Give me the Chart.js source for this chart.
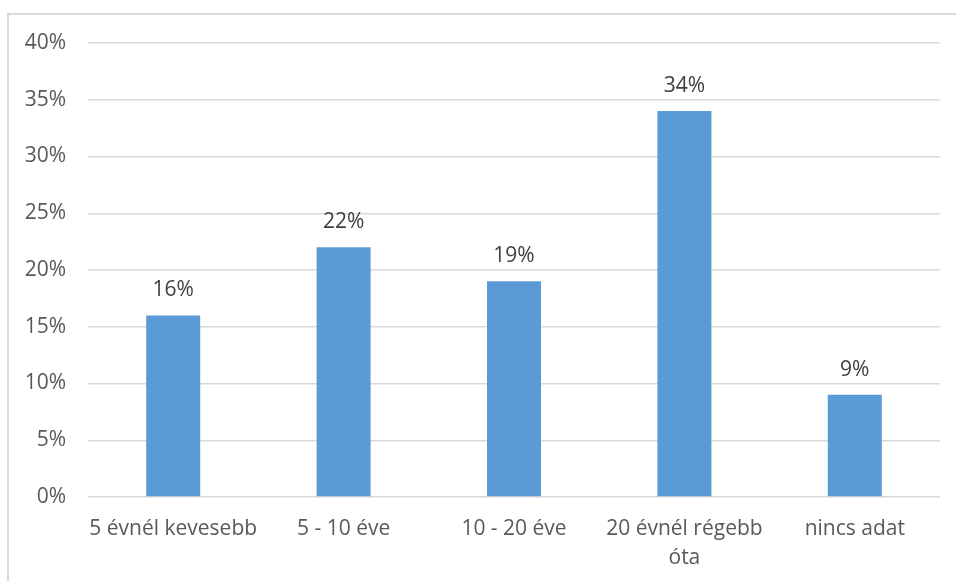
<!DOCTYPE html>
<html>
<head>
<meta charset="utf-8">
<script src="https://cdn.jsdelivr.net/npm/chart.js@4"></script>
<style>
  html, body { margin: 0; padding: 0; background: #fff; }
  #frame {
    position: absolute; left: 7px; top: 13px; right: -2px; bottom: -2px;
    border-top: 2px solid #d9d9d9; border-left: 2px solid #d9d9d9;
  }
  #wrap { position: absolute; left: 0; top: 0; width: 956px; height: 581px; }
</style>
</head>
<body>
<div id="frame"></div>
<div id="wrap"><canvas id="evekChart"></canvas></div>
<script>
const categories = ['5 évnél kevesebb', '5 - 10 éve', '10 - 20 éve', ['20 évnél régebb', 'óta'], 'nincs adat'];
const shares = [16, 22, 19, 34, 9];
const yTicks = [0, 5, 10, 15, 20, 25, 30, 35, 40];

const fontFamily = '"Open Sans", "Liberation Sans", sans-serif';

// value labels above the bars
const barLabels = {
    id: 'barLabels',
    afterDatasetsDraw(chart) {
        const ctx = chart.ctx;
        ctx.save();
        ctx.font = '21px ' + fontFamily;
        ctx.fillStyle = '#404040';
        ctx.textAlign = 'center';
        ctx.textBaseline = 'alphabetic';
        chart.getDatasetMeta(0).data.forEach((bar, i) => {
            ctx.fillText(shares[i] + '%', bar.x, bar.y - 19);
        });
        ctx.restore();
    }
};

new Chart(document.getElementById('evekChart'), {
    type: 'bar',
    data: {
        labels: categories,
        datasets: [{
            data: shares,
            backgroundColor: '#5b9bd5',
            barPercentage: 0.317,
            categoryPercentage: 1
        }]
    },
    options: {
        responsive: true,
        maintainAspectRatio: false,
        animation: false,
        layout: { padding: { top: 43, right: 16, left: 0, bottom: 0 } },
        plugins: {
            legend: { display: false },
            tooltip: { enabled: false }
        },
        scales: {
            x: {
                grid: { display: false, drawTicks: false },
                border: { display: false },
                ticks: {
                    color: '#595959',
                    font: { family: fontFamily, size: 21, lineHeight: 1.35 },
                    padding: 18,
                    maxRotation: 0,
                    autoSkip: false
                },
                afterFit(scale) { scale.height = 84; }
            },
            y: {
                min: 0,
                max: 40,
                afterBuildTicks(scale) { scale.ticks = yTicks.map(v => ({ value: v })); },
                grid: { color: '#d9d9d9', lineWidth: 1.5, drawTicks: false },
                border: { display: false },
                ticks: {
                    color: '#595959',
                    font: { family: fontFamily, size: 21 },
                    padding: 22,
                    callback: v => v + '%'
                },
                afterFit(scale) { scale.width = 88; }
            }
        }
    },
    plugins: [barLabels]
});
</script>
</body>
</html>
